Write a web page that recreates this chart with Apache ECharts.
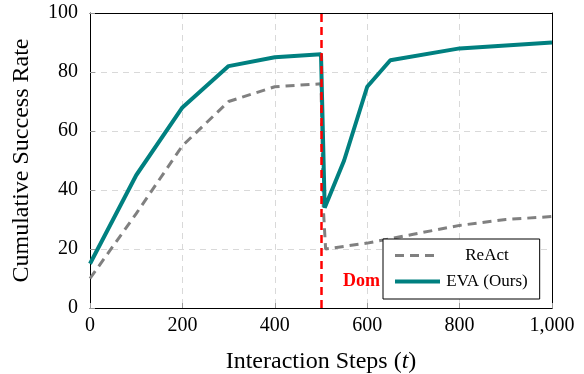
<!DOCTYPE html>
<html><head><meta charset="utf-8">
<script src="https://cdn.jsdelivr.net/npm/echarts@6/dist/echarts.min.js"></script>
<style>html,body{margin:0;padding:0;background:#fff}#c{width:584px;height:374px}</style>
</head><body><div id="c"></div>
<script>
const evaSteps = [0, 100, 200, 300, 400, 500, 508, 550, 600, 650, 800, 1000];
const evaValues = [15, 45, 68, 82, 85, 86, 34, 50, 75, 84, 88, 90];
const reactSteps = [0, 100, 200, 300, 400, 500, 505, 510, 600, 700, 800, 900, 1000];
const reactValues = [10, 32, 55, 70, 75, 76, 34, 20, 22, 25, 28, 30, 31];
const shiftStep = 500;
const xTicks = [0, 200, 400, 600, 800, 1000];
const yTicks = [0, 20, 40, 60, 80, 100];
const seriesNames = ['ReAct', 'EVA (Ours)'];
const shiftLabel = 'Dom';

const FONT = 'Liberation Serif';
const chart = echarts.init(document.getElementById('c'), null, {renderer: 'canvas'});
const pair = (xs, ys) => xs.map((x, i) => [x, ys[i]]);
const gridLine = {show: true, lineStyle: {color: '#d9d9d9', type: [6, 5], width: 1}};
const tick = {show: true, inside: true, length: 5, lineStyle: {color: '#999'}};
chart.setOption({
  animation: false,
  textStyle: {fontFamily: FONT},
  grid: {left: 90, right: 32, top: 13, bottom: 66, show: false, containLabel: false, outerBoundsMode: 'none'},
  xAxis: [{
    type: 'value', min: xTicks[0], max: xTicks[xTicks.length - 1], interval: 200,
    name: 'Interaction Steps ({i|t})', nameLocation: 'middle', nameGap: 42,
    nameTextStyle: {fontFamily: FONT, fontSize: 24, color: '#000', rich: {i: {fontStyle: 'italic', fontFamily: FONT, fontSize: 24, color: '#000'}}},
    axisLine: {show: true, onZero: false, lineStyle: {color: '#000', width: 1}},
    axisTick: tick,
    axisLabel: {fontFamily: FONT, fontSize: 20, color: '#000', margin: 8,
      formatter: v => v.toLocaleString('en-US')},
    splitLine: gridLine
  }, {
    type: 'value', position: 'top', min: xTicks[0], max: xTicks[xTicks.length - 1], interval: 200,
    axisLine: {show: true, onZero: false, lineStyle: {color: '#000', width: 1}},
    axisTick: {show: false}, axisLabel: {show: false}, splitLine: {show: false}
  }],
  yAxis: [{
    type: 'value', min: yTicks[0], max: yTicks[yTicks.length - 1], interval: 20,
    name: 'Cumulative Success Rate', nameLocation: 'middle', nameGap: 56, nameRotate: 90,
    nameTextStyle: {fontFamily: FONT, fontSize: 24, color: '#000'},
    axisLine: {show: true, onZero: false, lineStyle: {color: '#000', width: 1}},
    axisTick: tick,
    axisLabel: {fontFamily: FONT, fontSize: 20, color: '#000', margin: 12},
    splitLine: gridLine
  }, {
    type: 'value', position: 'right', min: yTicks[0], max: yTicks[yTicks.length - 1], interval: 20,
    axisLine: {show: true, onZero: false, lineStyle: {color: '#000', width: 1}},
    axisTick: {show: false}, axisLabel: {show: false}, splitLine: {show: false}
  }],
  legend: {
    orient: 'vertical', left: 383, top: 239,
    data: [
      {name: seriesNames[0], lineStyle: {width: 3, color: '#808080', type: [9, 6]}},
      {name: seriesNames[1], lineStyle: {width: 4, color: '#008080'}}
    ],
    itemWidth: 45, itemHeight: 14, itemGap: 9,
    padding: [8, 12, 9, 10],
    borderColor: '#000', borderWidth: 1, backgroundColor: '#fff',
    itemStyle: {opacity: 0},
    formatter: name => '{c|' + name + '}',
    textStyle: {fontFamily: FONT, fontSize: 17, color: '#000',
      rich: {c: {width: 84, align: 'center', fontFamily: FONT, fontSize: 17, color: '#000'}}}
  },
  graphic: [{
    type: 'text', left: 343, top: 272, z: 1,
    style: {text: shiftLabel, fill: '#ff0000', font: 'bold 18px "Liberation Serif"'}
  }],
  series: [
    {
      name: seriesNames[0], type: 'line', data: pair(reactSteps, reactValues),
      symbol: 'none', z: 3,
      lineStyle: {color: '#808080', width: 3, type: [9, 6]},
      itemStyle: {color: '#808080'}
    },
    {
      name: seriesNames[1], type: 'line', data: pair(evaSteps, evaValues),
      symbol: 'none', z: 4,
      lineStyle: {color: '#008080', width: 4},
      itemStyle: {color: '#008080'},
      markLine: {
        silent: true, symbol: 'none', z: 5,
        label: {show: false},
        lineStyle: {color: '#ff0000', width: 2.5, type: [8, 5]},
        data: [{xAxis: shiftStep}]
      }
    }
  ]
});
</script></body></html>
